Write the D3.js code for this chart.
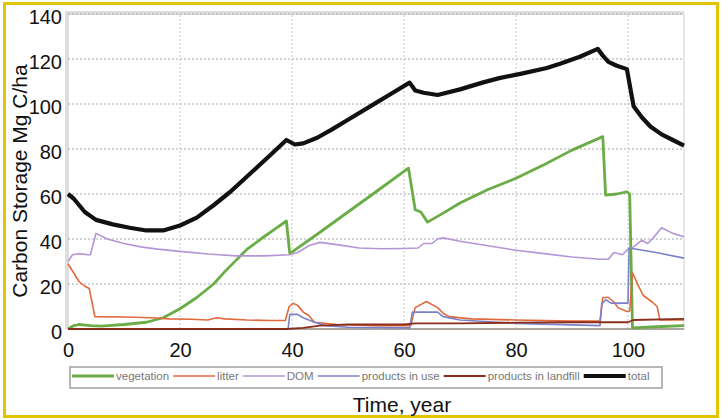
<!DOCTYPE html>
<html>
<head>
<meta charset="utf-8">
<script src="https://cdn.jsdelivr.net/npm/d3@7"></script>
<style>
  body { margin: 0; background: #fff; }
  text { font-family: "Liberation Sans", Arial, sans-serif; }
</style>
</head>
<body>
<svg id="canvas" width="722" height="420"></svg>
<script>
// Datos: [año, Mg C/ha]
const vegetation = [[0,0],[1,1.5],[2,2],[4,1.5],[6,1.3],[10,2],[14,3],[17,5],[20,9],[23,14],[26,20],[28,25.5],[30,30.5],[32,35.5],[35,41],[37,44.5],[39,48],[39.6,33.5],[45,43],[50,52],[55,61],[60.8,71.5],[62,53],[63,52],[64.2,47.5],[67,51.5],[70,56],[75,62],[80,67],[85,73],[90,79.5],[95.5,85.5],[96,59.5],[98,60],[99.8,61],[100.3,60],[100.8,0.5],[105,1],[110,1.5]];
const litter = [[0,29],[1,25],[2,21],[3,19],[3.8,18],[4.8,5.5],[10,5.3],[15,5],[18,4.5],[22,4.3],[25,4],[26.5,5],[28,4.5],[32,4],[36,3.8],[38.8,3.8],[39.5,10],[40.2,11.4],[41,10.5],[42,7.5],[43,6],[44,3],[48,2],[55,1.5],[61.2,1.5],[62,9.5],[64,12.2],[66,9.5],[67,7],[68,5.5],[72,4.5],[80,4],[90,3.5],[95,3.5],[95.5,14],[96.5,14],[97.5,12],[98.2,9.5],[99.8,7.8],[100.3,8],[100.8,25],[101.8,19.5],[102.7,15],[104.3,12],[105.2,10],[105.7,4],[110,4]];
const dom = [[0,30],[0.8,33],[2,33.5],[3.5,33],[4,33],[5,42.5],[7,40],[10,38],[13,36.5],[16,35.5],[20,34.5],[25,33.3],[30,32.5],[35,32.5],[39.5,33],[41,34],[43,37],[45,38.5],[48,37.5],[52,36],[56,35.7],[60,35.8],[62.5,36],[63.5,38],[65,38],[66,40],[67,40.5],[70,39],[75,37],[80,35],[85,33.5],[90,32],[95,31],[96.5,31],[97.5,34],[99,33],[100,35.5],[101,36.5],[102.5,39.5],[103.5,38],[104.5,40.5],[106,45],[108,42.5],[110,41]];
const productsInUse = [[0,0],[39.3,0],[39.6,6.5],[41,6.5],[42,5],[44,3],[46,1.5],[50,0.8],[61,0.5],[61.5,7.5],[66,7.5],[67,5.5],[70,4],[80,2.5],[95,1.5],[95.3,11],[96,13],[97,11.5],[100,11.5],[100.2,36],[105,34],[110,31.5]];
const productsInLandfill = [[0,0],[39,0],[42,0.5],[45,1.5],[50,2],[60,2],[62,2.5],[70,2.5],[80,2.8],[90,3],[100,3],[101,4],[110,4.5]];
const total = [[0,60],[1,58],[3,52],[5,48.5],[8,46.5],[11,45],[14,43.8],[17,43.8],[20,46],[23,49.5],[26,55],[29,61],[32.5,69],[36,77],[39,84],[40.5,82],[42,82.5],[44.5,85],[47,88.5],[50,93],[55,100.5],[58,105],[61,109.5],[62,106],[63.5,105],[66,104],[70,106.5],[74,109.5],[77,111.5],[81,113.5],[85.5,116],[88,118],[91.4,121],[94.6,124.5],[95.5,121.5],[96.5,118.7],[98,117],[99.8,115.5],[101,99],[102.5,94],[104,90],[106,86.5],[108,84],[110,81.5]];

const xTicks = [0, 20, 40, 60, 80, 100];
const yTicks = [0, 20, 40, 60, 80, 100, 120, 140];
const seriesNames = ["vegetation", "litter", "DOM", "products in use", "products in landfill", "total"];

// Estilos de cada serie
const estilos = [
  { datos: vegetation, color: "#6aac45", ancho: 2.8 },
  { datos: litter, color: "#e06a3c", ancho: 1.6 },
  { datos: dom, color: "#b595d6", ancho: 1.6 },
  { datos: productsInUse, color: "#7c80c8", ancho: 1.6 },
  { datos: productsInLandfill, color: "#8b2f1c", ancho: 1.8 },
  { datos: total, color: "#111", ancho: 4.2 }
];

const svg = d3.select("#canvas");
const x = d3.scaleLinear().domain([0, 110]).range([68, 684]);
const y = d3.scaleLinear().domain([0, 140]).range([329, 14]);

// Marco amarillo exterior
svg.append("rect")
  .attr("x", 4.5).attr("y", 3.5).attr("width", 713).attr("height", 413)
  .attr("fill", "#fff").attr("stroke", "#e2c400").attr("stroke-width", 3);

// Fondo del área del gráfico
svg.append("rect")
  .attr("x", x(0)).attr("y", y(140)).attr("width", x(110) - x(0)).attr("height", y(0) - y(140))
  .attr("fill", "#fff").attr("stroke", "#cfcfcf").attr("stroke-width", 1);
svg.append("rect").attr("x", x(0) - 3).attr("y", y(140) - 3).attr("width", 4).attr("height", y(0) - y(140) + 3).attr("fill", "#dedede");
svg.append("rect").attr("x", x(0) - 3).attr("y", y(140) - 3).attr("width", x(110) - x(0) + 3).attr("height", 4).attr("fill", "#dedede");

// Rejilla punteada
svg.selectAll(".gridy").data(yTicks.filter(d => d > 0)).enter().append("line")
  .attr("class", "gridy")
  .attr("x1", x(0)).attr("x2", x(110))
  .attr("y1", d => y(d)).attr("y2", d => y(d))
  .attr("stroke", "#a8a8a8").attr("stroke-width", 1.2).attr("stroke-dasharray", "2,2");
svg.selectAll(".gridx").data(xTicks.filter(d => d > 0)).enter().append("line")
  .attr("class", "gridx")
  .attr("x1", d => x(d)).attr("x2", d => x(d))
  .attr("y1", y(0)).attr("y2", y(140))
  .attr("stroke", "#c4c4c4").attr("stroke-width", 1).attr("stroke-dasharray", "2,2");

// Eje base
svg.append("line")
  .attr("x1", x(0)).attr("x2", x(110)).attr("y1", y(0)).attr("y2", y(0))
  .attr("stroke", "#9a8f88").attr("stroke-width", 1.5);

// Ejes
const ejeY = svg.append("g").attr("transform", `translate(${x(0)},0)`)
  .call(d3.axisLeft(y).tickValues(yTicks).tickSize(0).tickPadding(6));
const ejeX = svg.append("g").attr("transform", `translate(0,${y(0)})`)
  .call(d3.axisBottom(x).tickValues(xTicks).tickSize(0).tickPadding(14));
[ejeY, ejeX].forEach(g => {
  g.select(".domain").remove();
  g.selectAll("text").attr("font-size", 20).attr("fill", "#111")
    .style("font-family", '"Liberation Sans", Arial, sans-serif');
});
ejeY.selectAll("text").attr("dy", "0.45em");

// Series
const linea = d3.line().x(d => x(d[0])).y(d => y(d[1]));
estilos.forEach(s => {
  svg.append("path")
    .datum(s.datos)
    .attr("d", linea)
    .attr("fill", "none")
    .attr("stroke", s.color)
    .attr("stroke-width", s.ancho)
    .attr("stroke-linejoin", "round");
});

// Títulos de ejes
svg.append("text")
  .attr("transform", "translate(27,181) rotate(-90)")
  .attr("text-anchor", "middle").attr("font-size", 21).attr("fill", "#111")
  .text("Carbon Storage Mg C/ha");
svg.append("text")
  .attr("x", 402).attr("y", 412)
  .attr("text-anchor", "middle").attr("font-size", 21).attr("fill", "#111")
  .text("Time, year");

// Leyenda
const leyenda = svg.append("g");
leyenda.append("rect")
  .attr("x", 70).attr("y", 367).attr("width", 592).attr("height", 21)
  .attr("fill", "#fff").attr("stroke", "#a0a0a0").attr("stroke-width", 1.5);
let posX = 72;
seriesNames.forEach((nombre, i) => {
  leyenda.append("line")
    .attr("x1", posX).attr("x2", posX + 42).attr("y1", 376).attr("y2", 376)
    .attr("stroke", estilos[i].color).attr("stroke-width", estilos[i].ancho);
  const t = leyenda.append("text")
    .attr("x", posX + 44).attr("y", 380)
    .attr("font-size", 11.5).attr("fill", "#777")
    .text(nombre);
  posX += 44 + t.node().getComputedTextLength() + 4;
});
</script>
</body>
</html>
